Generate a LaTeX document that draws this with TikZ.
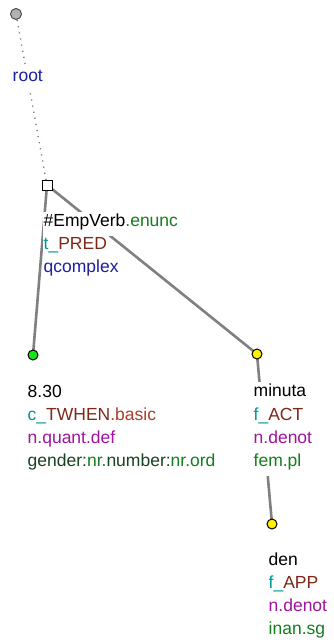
\documentclass[tikz,border=0pt]{standalone}
\usepackage{fontspec}
\setmainfont{Liberation Sans}
\usepackage{xcolor}
\usepackage{tikz}

\definecolor{edgegray}{RGB}{128,128,128}
\definecolor{funtor}{RGB}{0,150,150}
\definecolor{funcol}{RGB}{125,40,25}
\definecolor{subfun}{RGB}{175,60,45}
\definecolor{gramcol}{RGB}{160,20,160}
\definecolor{valcol}{RGB}{20,125,30}
\definecolor{attcol}{RGB}{25,65,35}
\definecolor{rootcol}{RGB}{30,30,160}
\definecolor{nodegreen}{RGB}{20,230,20}
\definecolor{nodeyellow}{RGB}{255,240,0}

\tikzset{
  lbl/.style={anchor=base west, fill=white, inner xsep=0.5pt, inner ysep=0pt,
    text height=14pt, text depth=10pt, font=\fontsize{17.5}{23}\selectfont},
  edge/.style={draw=edgegray, line width=2.6pt},
  rootedge/.style={draw=edgegray, line width=1.4pt, dash pattern=on 1.2pt off 5pt},
  tnode/.style={circle, draw=black, line width=1pt, minimum size=10pt, inner sep=0pt}
}

\begin{document}
\begin{tikzpicture}[x=1pt,y=-1pt]
  \useasboundingbox (0,0) rectangle (333,643);
  \coordinate (root) at (16,14);
  \coordinate (pred) at (47,185);
  \coordinate (twhen) at (33,355);
  \coordinate (act) at (257,354);
  \coordinate (app) at (272,524);
  % edges
  \draw[rootedge] (root) -- (pred);
  \draw[edge] (pred) -- (twhen);
  \draw[edge] (pred) -- (act);
  \draw[edge] (act) -- (app);
  % labels
  \node[lbl] (root-l1) at (12,81) {\textcolor{rootcol}{root}};
  \node[lbl] (pred-l1) at (43,226) {\#EmpVerb\textcolor{valcol}{.enunc}};
  \node[lbl] (pred-l2) at (43,249) {\textcolor{funtor}{t\_}\textcolor{funcol}{PRED}};
  \node[lbl] (pred-l3) at (43,272) {\textcolor{rootcol}{qcomplex}};
  \node[lbl] (twhen-l1) at (27,397) {8.30};
  \node[lbl] (twhen-l2) at (27,420) {\textcolor{funtor}{c\_}\textcolor{funcol}{TWHEN}\textcolor{subfun}{.basic}};
  \node[lbl] (twhen-l3) at (27,443) {\textcolor{gramcol}{n.quant.def}};
  \node[lbl] (twhen-l4) at (27,466) {\textcolor{attcol}{gender:}\textcolor{valcol}{nr.}\textcolor{attcol}{number:}\textcolor{valcol}{nr.ord}};
  \node[lbl] (act-l1) at (253,396) {minuta};
  \node[lbl] (act-l2) at (253,420) {\textcolor{funtor}{f\_}\textcolor{funcol}{ACT}};
  \node[lbl] (act-l3) at (253,443) {\textcolor{gramcol}{n.denot}};
  \node[lbl] (act-l4) at (253,466) {\textcolor{valcol}{fem.pl}};
  \node[lbl] (app-l1) at (268,565) {den};
  \node[lbl] (app-l2) at (268,588) {\textcolor{funtor}{f\_}\textcolor{funcol}{APP}};
  \node[lbl] (app-l3) at (268,611) {\textcolor{gramcol}{n.denot}};
  \node[lbl] (app-l4) at (268,634) {\textcolor{valcol}{inan.sg}};
  % tree nodes
  \node[tnode, fill=black!30, draw=black!70, minimum size=11pt] (root-n) at (root) {};
  \node[draw=black, fill=white, line width=1pt, minimum size=10pt, inner sep=0pt] (pred-n) at (pred) {};
  \node[tnode, fill=nodegreen] (twhen-n) at (twhen) {};
  \node[tnode, fill=nodeyellow] (act-n) at (act) {};
  \node[tnode, fill=nodeyellow] (app-n) at (app) {};
\end{tikzpicture}
\end{document}
